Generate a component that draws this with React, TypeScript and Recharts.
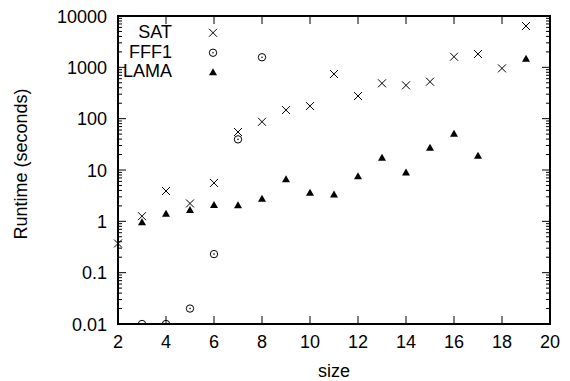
import React from 'react';
import { ScatterChart, Scatter, XAxis, YAxis, Legend, ReferenceArea } from 'recharts';

const SAT_SIZE = [2, 3, 4, 5, 6, 7, 8, 9, 10, 11, 12, 13, 14, 15, 16, 17, 18, 19];
const SAT_TIME = [0.37, 1.26, 3.9, 2.23, 5.6, 55, 87, 147, 176, 740, 276, 488, 446, 525, 1610, 1820, 955, 6380];

const FFF1_SIZE = [3, 4, 5, 6, 7, 8];
const FFF1_TIME = [0.01, 0.01, 0.02, 0.23, 39.5, 1570];

const LAMA_SIZE = [3, 4, 5, 6, 7, 8, 9, 10, 11, 12, 13, 14, 15, 16, 17, 19];
const LAMA_TIME = [0.98, 1.43, 1.7, 2.13, 2.1, 2.8, 6.7, 3.66, 3.39, 7.7, 17.6, 9.1, 27.5, 51.7, 19.3, 1497];

const SERIES_NAMES = ['SAT', 'FFF1', 'LAMA'];
const X_TICKS = [2, 4, 6, 8, 10, 12, 14, 16, 18, 20];
const Y_MAJOR = [0.01, 0.1, 1, 10, 100, 1000, 10000];
const Y_LABELS = ['0.01', '0.1', '1', '10', '100', '1000', '10000'];

// minor log ticks 2..9 in every decade
const Y_MINOR: number[] = [];
Y_MAJOR.slice(0, -1).forEach((d) => {
  for (let k = 2; k <= 9; k++) Y_MINOR.push(+(d * k).toPrecision(3));
});

const toPoints = (xs: number[], ys: number[]) => xs.map((x, i) => ({ size: x, time: ys[i] }));

const FONT = '"Liberation Sans", Arial, Helvetica, sans-serif';
const W = 570;
const H = 381;
const M = { top: 16, right: 20, bottom: 0, left: 0 };
const YW = 118;
const XH = 57;
// plot box edges
const PL = M.left + YW;
const PR = W - M.right;
const PT = M.top;
const PB = H - M.bottom - XH;

const Cross = ({ cx, cy }: any) => (
  <path d={`M${cx - 4},${cy - 4}L${cx + 4},${cy + 4}M${cx - 4},${cy + 4}L${cx + 4},${cy - 4}`} stroke="#000" strokeWidth={1} fill="none" />
);

const DotCircle = ({ cx, cy }: any) => (
  <g>
    <circle cx={cx} cy={cy} r={3.7} stroke="#000" strokeWidth={1} fill="none" />
    <circle cx={cx} cy={cy} r={0.8} fill="#000" />
  </g>
);

const Tri = ({ cx, cy }: any) => (
  <path d={`M${cx},${cy - 3.6}L${cx + 4},${cy + 3.4}L${cx - 4},${cy + 3.4}Z`} fill="#000" />
);

const SHAPES: Record<string, any> = { SAT: Cross, FFF1: DotCircle, LAMA: Tri };

const YTick = (props: any) => {
  const { y, payload } = props;
  const idx = Y_MAJOR.indexOf(payload.value);
  const len = idx >= 0 ? 8 : 4;
  return (
    <g>
      <line x1={PL} x2={PL + len} y1={y} y2={y} stroke="#000" strokeWidth={1} />
      <line x1={PR - len} x2={PR} y1={y} y2={y} stroke="#000" strokeWidth={1} />
      {idx >= 0 && (
        <text x={PL - 11} y={y + 6.5} textAnchor="end" fontSize={18} fontFamily={FONT} fill="#000">
          {Y_LABELS[idx]}
        </text>
      )}
    </g>
  );
};

const XTick = (props: any) => {
  const { x, payload } = props;
  return (
    <g>
      <line x1={x} x2={x} y1={PB} y2={PB - 8} stroke="#000" strokeWidth={1} />
      <line x1={x} x2={x} y1={PT} y2={PT + 8} stroke="#000" strokeWidth={1} />
      <text x={x} y={PB + 24} textAnchor="middle" fontSize={18} fontFamily={FONT} fill="#000">
        {payload.value}
      </text>
    </g>
  );
};

const LegendBox = (props: any) => {
  const items = [...(props.payload || [])].sort(
    (a: any, b: any) => SERIES_NAMES.indexOf(a.value) - SERIES_NAMES.indexOf(b.value)
  );
  return (
    <div style={{ fontFamily: FONT, fontSize: 18, lineHeight: '19.5px' }}>
      {items.map((it: any) => {
        const Shape = SHAPES[it.value];
        return (
          <div key={it.value} style={{ display: 'flex', alignItems: 'center', height: 19.5 }}>
            <span style={{ width: 54, textAlign: 'right', display: 'inline-block' }}>{it.value}</span>
            <svg width={82} height={19.5} style={{ display: 'block' }}>
              <Shape cx={41} cy={9.75} />
            </svg>
          </div>
        );
      })}
    </div>
  );
};

const MID_Y = 164;

export default function App() {
  return (
    <div style={{ position: 'absolute', left: 0, top: 0, background: '#fff' }}>
      <ScatterChart width={W} height={H} margin={M}>
        <XAxis
          type="number"
          dataKey="size"
          domain={[2, 20]}
          ticks={X_TICKS}
          interval={0}
          height={XH}
          axisLine={false}
          tickLine={false}
          tick={<XTick />}
          label={{ value: 'size', position: 'insideBottom', offset: 4, fontSize: 18, fontFamily: FONT, fill: '#000' }}
        />
        <YAxis
          type="number"
          dataKey="time"
          scale="log"
          domain={[0.01, 10000]}
          allowDataOverflow
          ticks={[...Y_MAJOR, ...Y_MINOR]}
          interval={0}
          width={YW}
          axisLine={false}
          tickLine={false}
          tick={<YTick />}
          label={{
            content: () => (
              <text
                x={0}
                y={0}
                transform={`translate(26.5, ${MID_Y}) rotate(-90)`}
                textAnchor="middle"
                fontSize={18}
                fontFamily={FONT}
                fill="#000"
              >
                Runtime (seconds)
              </text>
            ),
          }}
        />
        <ReferenceArea x1={2} x2={20} y1={0.01} y2={10000} fill="none" stroke="#000" strokeWidth={2} />
        <Scatter name="SAT" data={toPoints(SAT_SIZE, SAT_TIME)} shape={(p: any) => <Cross {...p} />} isAnimationActive={false} />
        <Scatter name="FFF1" data={toPoints(FFF1_SIZE, FFF1_TIME)} shape={(p: any) => <DotCircle {...p} />} isAnimationActive={false} />
        <Scatter name="LAMA" data={toPoints(LAMA_SIZE, LAMA_TIME)} shape={(p: any) => <Tri {...p} />} isAnimationActive={false} />
        <Legend
          layout="vertical"
          align="center"
          verticalAlign="middle"
          content={<LegendBox />}
          wrapperStyle={{ left: PL, top: 23.25, width: 140 }}
        />
      </ScatterChart>
    </div>
  );
}
